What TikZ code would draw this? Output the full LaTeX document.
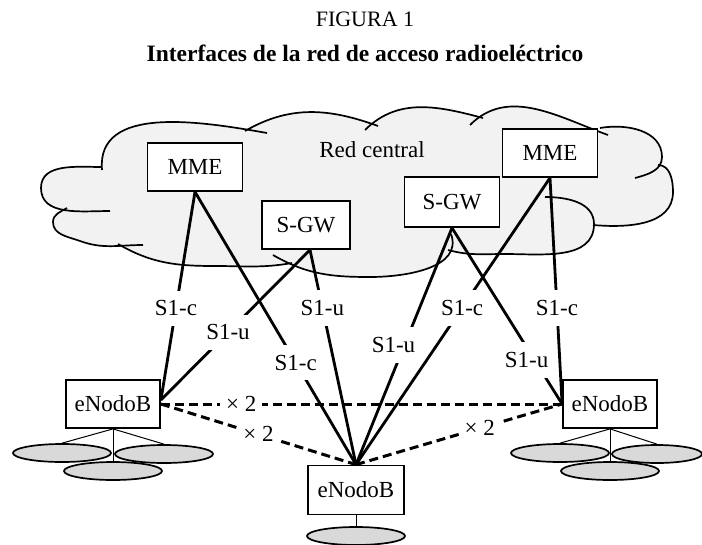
\documentclass[tikz,border=0pt]{standalone}
\usepackage{fontspec}
\setmainfont{Liberation Serif}
\usetikzlibrary{shapes.geometric}

\begin{document}
\begin{tikzpicture}[x=1pt, y=1pt, font=\fontsize{23}{28}\selectfont,
    box/.style={draw, line width=1.8pt, fill=white, minimum height=48pt, inner sep=0pt},
    edge/.style={line width=1.7pt},
    link/.style={line width=2.8pt},
    radio/.style={line width=3pt, dash pattern=on 9pt off 5pt},
    lbl/.style={fill=white, inner xsep=6pt, inner ysep=10pt},
    xlbl/.style={fill=white, inner sep=6pt},
    cell/.style={draw, ellipse, line width=1.7pt, fill=black!15, minimum width=98pt, minimum height=18pt, inner sep=0pt},
    feed/.style={line width=1pt}]
      \useasboundingbox (0, 0) rectangle (702, -544);

      % Title
        \node[anchor=base, font=\fontsize{22}{26}\selectfont] (fig) at (365, -26) {FIGURA 1};
        \node[anchor=base, font=\fontsize{23.5}{28}\selectfont\bfseries] (title) at (365, -61) {Interfaces de la red de acceso radioeléctrico};

      % Core network cloud
        \fill[black!5] (102, -170) to[out=95, in=170] (267, -133)
          -- (245, -131) to[out=30, in=160] (378, -126)
          -- (365, -130) to[out=45, in=165] (483, -118)
          -- (470, -125) to[out=45, in=160] (608, -135)
          -- (600, -128) to[out=10, in=90] (662, -157) to[out=270, in=15] (635, -178)
          -- (658, -165) to[out=0, in=90] (673, -192) to[out=270, in=-5] (593, -225)
          -- (594, -224) to[out=270, in=0] (505, -254) to[out=180, in=-15] (448, -250)
          -- (451, -234) to[out=-70, in=0] (370, -277) to[out=180, in=-30] (273, -255)
          -- (292, -263) to[out=190, in=0] (215, -266) to[out=180, in=-30] (118, -244)
          -- (143, -245) to[out=180, in=-20] (80, -241) to[out=160, in=270] (53, -222) to[out=90, in=210] (67, -208)
          -- (110, -211) to[out=180, in=270] (41, -188) to[out=90, in=180] (102, -167) -- cycle;
        \draw[edge] (102, -170) to[out=95, in=170] (267, -133);
        \draw[edge] (245, -131) to[out=30, in=160] (378, -126);
        \draw[edge] (365, -130) to[out=45, in=165] (483, -118);
        \draw[edge] (470, -125) to[out=45, in=160] (608, -135);
        \draw[edge] (600, -128) to[out=10, in=90] (662, -157) to[out=270, in=15] (635, -178);
        \draw[edge] (658, -165) to[out=0, in=90] (673, -192) to[out=270, in=-5] (593, -225);
        \draw[edge] (545, -197) to[out=0, in=90] (594, -224) to[out=270, in=0] (505, -254) to[out=180, in=-15] (448, -250);
        \draw[edge] (451, -234) to[out=-70, in=0] (370, -277) to[out=180, in=-30] (273, -255);
        \draw[edge] (292, -263) to[out=190, in=0] (215, -266) to[out=180, in=-30] (118, -244);
        \draw[edge] (143, -245) to[out=180, in=-20] (80, -241) to[out=160, in=270] (53, -222) to[out=90, in=210] (67, -208);
        \draw[edge] (110, -211) to[out=180, in=270] (41, -188) to[out=90, in=180] (102, -167);

        \node[anchor=base] (core) at (372, -157) {Red central};

      % Core nodes
        \node[box, minimum width=95pt] (mmeL) at (195, -167) {MME};
        \node[box, minimum width=88pt] (gwL) at (306, -225) {S-GW};
        \node[box, minimum width=95pt, minimum height=50pt] (gwR) at (452, -202) {S-GW};
        \node[box, minimum width=95pt] (mmeR) at (550, -153) {MME};

      % Base stations
        \node[box, minimum width=94pt] (enbL) at (113, -404) {eNodoB};
        \node[box, minimum width=94pt] (enbR) at (610, -404) {eNodoB};
        \node[box, minimum width=96pt, minimum height=49pt] (enbC) at (356, -490) {eNodoB};

      % S1 interfaces
        \draw[link] (mmeL.south) -- node[lbl, pos=0.56] {S1-c} ([yshift=4pt]enbL.east);
        \draw[link] (mmeL.south) -- node[lbl, pos=0.626] {S1-c} (enbC.north);
        \draw[link] ([xshift=4pt]gwL.south) -- node[lbl, pos=0.55] {S1-u} ([yshift=4pt]enbL.east);
        \draw[link] ([xshift=4pt]gwL.south) -- node[lbl, pos=0.27] {S1-u} (enbC.north);
        \draw[link] (gwR.south) -- node[lbl, pos=0.495, xshift=-11pt] {S1-u} (enbC.north);
        \draw[link] (mmeR.south) -- node[lbl, pos=0.453] {S1-c} (enbC.north);
        \draw[link] (gwR.south) -- node[lbl, pos=0.75, xshift=-8pt] {S1-u} (enbR.west);
        \draw[link] (mmeR.south) -- node[lbl, pos=0.576] {S1-c} (enbR.west);

      % X2 interfaces
        \draw[radio] (enbL.east) -- node[xlbl, pos=0.2] {× 2} (enbR.west);
        \draw[radio] (enbL.east) -- node[xlbl, pos=0.5] {× 2} (enbC.north);
        \draw[radio] (enbC.north) -- node[xlbl, pos=0.6] {× 2} (enbR.west);

      % Cells
        \node[cell] (cellL1) at (62, -453) {};
        \node[cell] (cellL2) at (164, -454) {};
        \node[cell] (cellL3) at (113, -471) {};
        \node[cell] (cellR1) at (560, -453) {};
        \node[cell, minimum width=90pt] (cellR2) at (657, -454) {};
        \node[cell] (cellR3) at (610, -471) {};
        \node[cell] (cellC) at (356, -536) {};

        \draw[feed] (enbL.south) -- (cellL1.north);
        \draw[feed] (enbL.south) -- (cellL2.north);
        \draw[feed] (enbL.south) -- (cellL3.north);
        \draw[feed] (enbR.south) -- (cellR1.north);
        \draw[feed] (enbR.south) -- (cellR2.north);
        \draw[feed] (enbR.south) -- (cellR3.north);
        \draw[feed] (enbC.south) -- (cellC.north);

    \end{tikzpicture}
\end{document}
